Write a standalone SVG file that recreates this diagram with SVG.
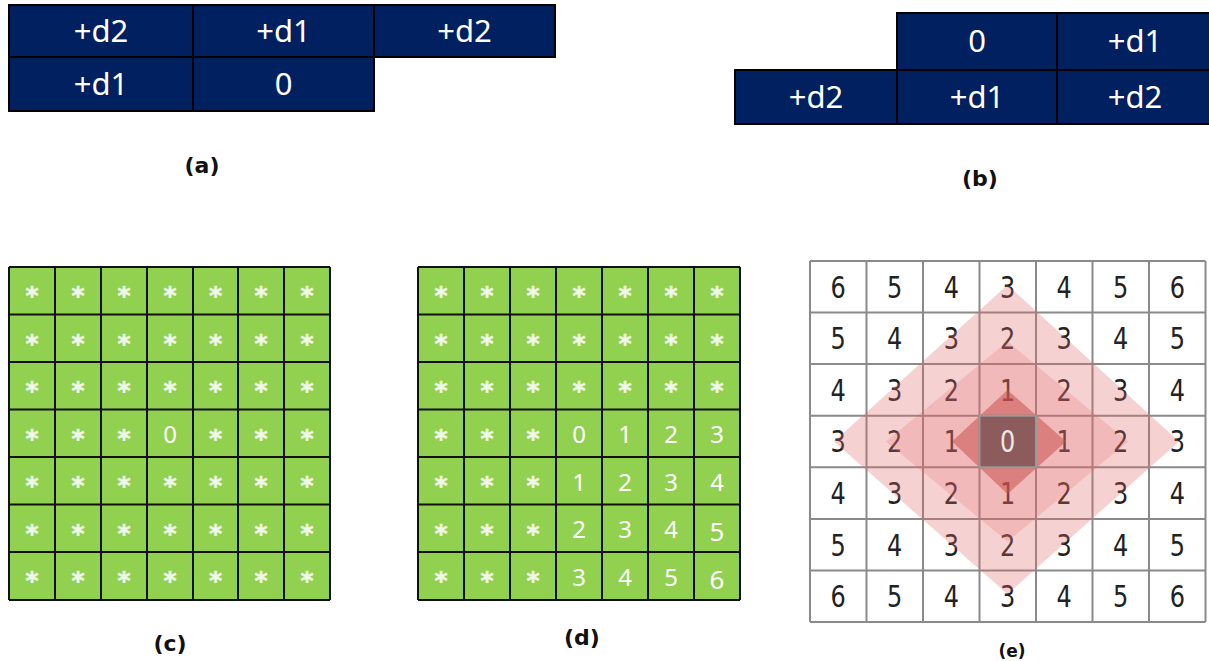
<svg xmlns="http://www.w3.org/2000/svg" width="1209" height="661" viewBox="0 0 1209 661">
<style>
.nv{fill:#002060;stroke:#000;stroke-width:2}
.nt{font-family:"Noto Sans","Open Sans",sans-serif;font-size:31px;fill:#fff;text-anchor:middle}
.lb{font-family:"DejaVu Sans",sans-serif;font-weight:bold;font-size:22px;fill:#111;text-anchor:middle}
.gr{fill:#92d050}
.gl{fill:none;stroke:#111;stroke-width:2}
.st{font-family:"DejaVu Sans",sans-serif;font-weight:bold;font-size:25px;fill:#eef7e8;stroke:#eef7e8;stroke-width:0.6;text-anchor:middle}
.gn{font-family:"Noto Sans","Open Sans",sans-serif;font-size:24px;fill:#fff;text-anchor:middle}
.el{fill:none;stroke:#8a8a8a;stroke-width:2}
.en{font-family:"DejaVu Sans",sans-serif;font-size:30px;fill:#222;text-anchor:middle}
</style>
<rect width="1209" height="661" fill="#fff"/>

<g id="panel-a">
<rect class="nv" x="9" y="5" width="184" height="52"/>
<rect class="nv" x="193" y="5" width="181" height="52"/>
<rect class="nv" x="374" y="5" width="181" height="52"/>
<rect class="nv" x="9" y="57" width="184" height="54"/>
<rect class="nv" x="193" y="57" width="181" height="54"/>
<text class="nt" x="101" y="42">+d2</text>
<text class="nt" x="283.5" y="42">+d1</text>
<text class="nt" x="464.5" y="42">+d2</text>
<text class="nt" x="101" y="95">+d1</text>
<text class="nt" x="283.5" y="95">0</text>
<text class="lb" x="202" y="173">(a)</text>
</g>

<g id="panel-b">
<rect class="nv" x="897" y="13" width="160" height="57"/>
<rect class="nv" x="1057" y="13" width="155" height="57"/>
<rect class="nv" x="735" y="70" width="162" height="54"/>
<rect class="nv" x="897" y="70" width="160" height="54"/>
<rect class="nv" x="1057" y="70" width="155" height="54"/>
<text class="nt" x="977" y="52">0</text>
<text class="nt" x="1135" y="52">+d1</text>
<text class="nt" x="816" y="108">+d2</text>
<text class="nt" x="977" y="108">+d1</text>
<text class="nt" x="1135" y="108">+d2</text>
<text class="lb" x="980" y="186">(b)</text>
</g>

<g id="panel-c">
<rect class="gr" x="9" y="267" width="321" height="333"/>
<path class="gl" d="M9 267V600M55 267V600M101 267V600M147 267V600M193 267V600M238 267V600M284 267V600M330 267V600M9 267H330M9 314.5H330M9 362H330M9 409.5H330M9 457H330M9 504.5H330M9 552H330M9 600H330"/>
<g class="st">
<text x="32" y="304">*</text><text x="78" y="304">*</text><text x="124" y="304">*</text><text x="170" y="304">*</text><text x="215.5" y="304">*</text><text x="261" y="304">*</text><text x="307" y="304">*</text>
<text x="32" y="351.5">*</text><text x="78" y="351.5">*</text><text x="124" y="351.5">*</text><text x="170" y="351.5">*</text><text x="215.5" y="351.5">*</text><text x="261" y="351.5">*</text><text x="307" y="351.5">*</text>
<text x="32" y="399">*</text><text x="78" y="399">*</text><text x="124" y="399">*</text><text x="170" y="399">*</text><text x="215.5" y="399">*</text><text x="261" y="399">*</text><text x="307" y="399">*</text>
<text x="32" y="446.5">*</text><text x="78" y="446.5">*</text><text x="124" y="446.5">*</text><text x="215.5" y="446.5">*</text><text x="261" y="446.5">*</text><text x="307" y="446.5">*</text>
<text x="32" y="494">*</text><text x="78" y="494">*</text><text x="124" y="494">*</text><text x="170" y="494">*</text><text x="215.5" y="494">*</text><text x="261" y="494">*</text><text x="307" y="494">*</text>
<text x="32" y="541.5">*</text><text x="78" y="541.5">*</text><text x="124" y="541.5">*</text><text x="170" y="541.5">*</text><text x="215.5" y="541.5">*</text><text x="261" y="541.5">*</text><text x="307" y="541.5">*</text>
<text x="32" y="589">*</text><text x="78" y="589">*</text><text x="124" y="589">*</text><text x="170" y="589">*</text><text x="215.5" y="589">*</text><text x="261" y="589">*</text><text x="307" y="589">*</text>
</g>
<text class="gn" x="170" y="443">0</text>
<text class="lb" x="170" y="651">(c)</text>
</g>

<g id="panel-d">
<rect class="gr" x="418" y="267" width="322" height="333"/>
<path class="gl" d="M418 267V600M464 267V600M510 267V600M556 267V600M602 267V600M648 267V600M694 267V600M740 267V600M418 267H740M418 314.5H740M418 362H740M418 409.5H740M418 457H740M418 504.5H740M418 552H740M418 600H740"/>
<g class="st">
<text x="441" y="304">*</text><text x="487" y="304">*</text><text x="533" y="304">*</text><text x="579" y="304">*</text><text x="625" y="304">*</text><text x="671" y="304">*</text><text x="717" y="304">*</text>
<text x="441" y="351.5">*</text><text x="487" y="351.5">*</text><text x="533" y="351.5">*</text><text x="579" y="351.5">*</text><text x="625" y="351.5">*</text><text x="671" y="351.5">*</text><text x="717" y="351.5">*</text>
<text x="441" y="399">*</text><text x="487" y="399">*</text><text x="533" y="399">*</text><text x="579" y="399">*</text><text x="625" y="399">*</text><text x="671" y="399">*</text><text x="717" y="399">*</text>
<text x="441" y="446.5">*</text><text x="487" y="446.5">*</text><text x="533" y="446.5">*</text>
<text x="441" y="494">*</text><text x="487" y="494">*</text><text x="533" y="494">*</text>
<text x="441" y="541.5">*</text><text x="487" y="541.5">*</text><text x="533" y="541.5">*</text>
<text x="441" y="589">*</text><text x="487" y="589">*</text><text x="533" y="589">*</text>
</g>
<g class="gn">
<text x="579" y="443">0</text><text x="625" y="443">1</text><text x="671" y="443">2</text><text x="717" y="443">3</text>
<text x="579" y="490.5">1</text><text x="625" y="490.5">2</text><text x="671" y="490.5">3</text><text x="717" y="490.5">4</text>
<text x="579" y="538">2</text><text x="625" y="538">3</text><text x="671" y="538">4</text><text x="717" y="541" font-size="26">5</text>
<text x="579" y="585.5">3</text><text x="625" y="585.5">4</text><text x="671" y="585.5">5</text><text x="717" y="589" font-size="26">6</text>
</g>
<text class="lb" x="582" y="645">(d)</text>
</g>

<g id="panel-e">
<rect x="810" y="261" width="395.5" height="361" fill="#fff"/>
<path class="el" d="M810 261V622M866.5 261V622M923 261V622M979.5 261V622M1036 261V622M1092.5 261V622M1149 261V622M1205.5 261V622M810 261H1205.5M810 312.6H1205.5M810 364.1H1205.5M810 415.7H1205.5M810 467.3H1205.5M810 518.9H1205.5M810 570.4H1205.5M810 622H1205.5"/>
<g class="en" transform="scale(0.8,1)">
<text x="1047.8" y="297.8">6</text><text x="1118.4" y="297.8">5</text><text x="1189.1" y="297.8">4</text><text x="1259.7" y="297.8">3</text><text x="1330.3" y="297.8">4</text><text x="1400.9" y="297.8">5</text><text x="1471.6" y="297.8">6</text>
<text x="1047.8" y="349.4">5</text><text x="1118.4" y="349.4">4</text><text x="1189.1" y="349.4">3</text><text x="1259.7" y="349.4">2</text><text x="1330.3" y="349.4">3</text><text x="1400.9" y="349.4">4</text><text x="1471.6" y="349.4">5</text>
<text x="1047.8" y="400.9">4</text><text x="1118.4" y="400.9">3</text><text x="1189.1" y="400.9">2</text><text x="1259.7" y="400.9">1</text><text x="1330.3" y="400.9">2</text><text x="1400.9" y="400.9">3</text><text x="1471.6" y="400.9">4</text>
<text x="1047.8" y="452.5">3</text><text x="1118.4" y="452.5">2</text><text x="1189.1" y="452.5">1</text><text x="1330.3" y="452.5">1</text><text x="1400.9" y="452.5">2</text><text x="1471.6" y="452.5">3</text>
<text x="1047.8" y="504.1">4</text><text x="1118.4" y="504.1">3</text><text x="1189.1" y="504.1">2</text><text x="1259.7" y="504.1">1</text><text x="1330.3" y="504.1">2</text><text x="1400.9" y="504.1">3</text><text x="1471.6" y="504.1">4</text>
<text x="1047.8" y="555.6">5</text><text x="1118.4" y="555.6">4</text><text x="1189.1" y="555.6">3</text><text x="1259.7" y="555.6">2</text><text x="1330.3" y="555.6">3</text><text x="1400.9" y="555.6">4</text><text x="1471.6" y="555.6">5</text>
<text x="1047.8" y="607.2">6</text><text x="1118.4" y="607.2">5</text><text x="1189.1" y="607.2">4</text><text x="1259.7" y="607.2">3</text><text x="1330.3" y="607.2">4</text><text x="1400.9" y="607.2">5</text><text x="1471.6" y="607.2">6</text>
</g>
<polygon points="1007.5,285 1179,441.5 1007.5,594 834,441.5" fill="#e06666" fill-opacity="0.3"/>
<polygon points="1007.5,341.5 1128,441.5 1007.5,541.5 886,441.5" fill="#e06666" fill-opacity="0.22"/>
<polygon points="1007.5,390 1066,441.5 1007.5,494 952,441.5" fill="#c85050" fill-opacity="0.55"/>
<rect x="979.5" y="415.7" width="56.5" height="51.6" fill="#8c5b5b" stroke="#9a9a9a" stroke-width="2"/>
<text class="en" transform="scale(0.8,1)" x="1259.7" y="452.5" style="fill:#eee6e6">0</text>
<text class="lb" x="1012" y="657" style="font-size:17px">(e)</text>
</g>
</svg>
